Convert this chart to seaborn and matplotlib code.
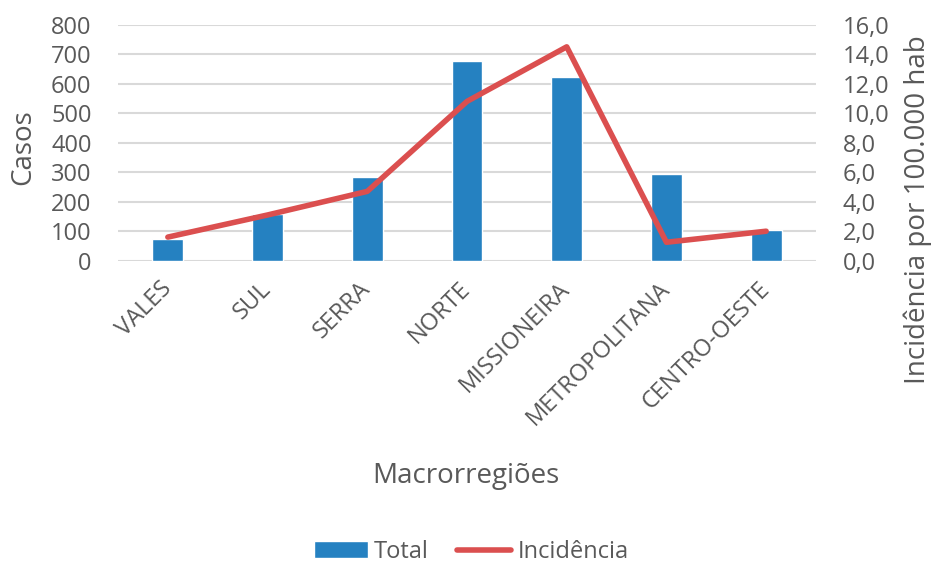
import numpy as np
import matplotlib.pyplot as plt
import seaborn as sns
from matplotlib.ticker import FuncFormatter, MultipleLocator
from matplotlib.patches import Patch
from matplotlib.lines import Line2D

regioes = ["VALES", "SUL", "SERRA", "NORTE", "MISSIONEIRA", "METROPOLITANA", "CENTRO-OESTE"]
total = [73, 159, 285, 676, 623, 295, 104]
incidencia = [1.6, 3.1, 4.7, 10.8, 14.5, 1.25, 2.0]

azul = "#2581C1"
vermelho = "#DB4F4F"
cinza = "#595959"

sns.set_theme(style="white")
plt.rcParams['font.family'] = ['Open Sans', 'DejaVu Sans']
plt.rcParams['text.color'] = cinza
plt.rcParams['axes.labelcolor'] = cinza
plt.rcParams['xtick.color'] = cinza
plt.rcParams['ytick.color'] = cinza

fig, ax = plt.subplots(figsize=(9.35, 5.63), dpi=100)
fig.subplots_adjust(left=118/935, right=816/935, top=1-24.7/563, bottom=1-260.7/563)

sns.barplot(x=regioes, y=total, color=azul, width=0.31, saturation=1, ax=ax, zorder=2)
ax.set_ylim(0, 800)
ax.yaxis.set_major_locator(MultipleLocator(100))
ax.grid(axis="y", color="#D9D9D9", linewidth=1.5, zorder=0)
ax.set_axisbelow(True)
for s in ax.spines.values():
    s.set_visible(False)
ax.tick_params(axis="both", length=0, labelsize=17)
ax.tick_params(axis="y", pad=19)
ax.set_xlim(-0.5, len(regioes) - 0.5)
ax.set_xticks(range(len(regioes)))
ax.set_xticklabels(regioes, rotation=45, ha="right", va="center", rotation_mode="anchor")
ax.tick_params(axis="x", pad=18)
ax.set_ylabel("Casos", fontsize=20, va="center", ha="center")
ax.yaxis.set_label_coords(-0.136, 0.48)
ax.set_xlabel("Macrorregiões", fontsize=20, va="center", ha="center")
ax.xaxis.set_label_coords(0.499, -0.912)

ax2 = ax.twinx()
ax2.plot(np.arange(len(regioes)), incidencia, color=vermelho, linewidth=4, solid_capstyle="round", zorder=3)
ax2.set_ylim(0, 16)
ax2.yaxis.set_major_locator(MultipleLocator(2))
ax2.yaxis.set_major_formatter(FuncFormatter(lambda v, p: f"{v:.1f}".replace(".", ",")))
ax2.grid(False)
for s in ax2.spines.values():
    s.set_visible(False)
ax2.tick_params(axis="y", length=0, labelsize=17, pad=19)
ax2.set_ylabel("Incidência por 100.000 hab", fontsize=20)
ax2.yaxis.label.set_va("center")
ax2.yaxis.label.set_ha("center")
ax2.yaxis.set_label_coords(1.146, 0.215)

handles = [Patch(facecolor=azul, label="Total"),
           Line2D([0], [0], color=vermelho, linewidth=4, label="Incidência")]
fig.legend(handles=handles, loc="center", ncol=2, frameon=False, fontsize=17,
           bbox_to_anchor=(471/935, 1-552/563), handlelength=2.3, handletextpad=0.25,
           columnspacing=1.2)

fig.savefig("out.png", dpi=100)
